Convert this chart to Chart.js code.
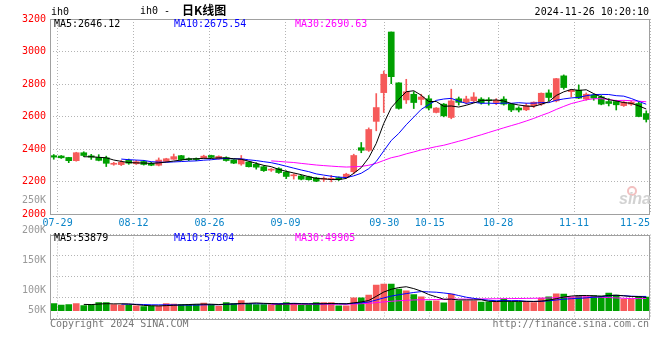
<!DOCTYPE html>
<html><head><meta charset="utf-8">
<script src="https://cdn.jsdelivr.net/npm/chart.js@4.4.1/dist/chart.umd.min.js"></script>
<style>
html,body{margin:0;padding:0;background:#fff;}
#wrap{position:relative;width:660px;height:360px;overflow:hidden;}
canvas{position:absolute;left:0;top:0;}
</style></head><body>
<div id="wrap"><canvas id="main" width="660" height="360"></canvas><canvas id="vol" width="660" height="360"></canvas></div>
<script>
// ---------- data ----------
const dates = ['07-26','07-29','07-30','07-31','08-01','08-02','08-05','08-06','08-07','08-08','08-09',
'08-12','08-13','08-14','08-15','08-16','08-19','08-20','08-21','08-22','08-23',
'08-26','08-27','08-28','08-29','08-30','09-02','09-03','09-04','09-05','09-06',
'09-09','09-10','09-11','09-12','09-13','09-18','09-19','09-20','09-23','09-24','09-25','09-26','09-27',
'09-30','10-08','10-09','10-10','10-11','10-14','10-15','10-16','10-17','10-18',
'10-21','10-22','10-23','10-24','10-25','10-28','10-29','10-30','10-31','11-01',
'11-04','11-05','11-06','11-07','11-08','11-11','11-12','11-13','11-14','11-15',
'11-18','11-19','11-20','11-21','11-22','11-25'];
const opens = [2359,2357,2348,2328,2377,2358,2348,2346,2306,2304,2330,2309,2323,2311,2300,2324,2337,2359,2340,2338,
2345,2360,2340,2347,2333,2308,2320,2306,2291,2270,2279,2258,2235,2234,2229,2222,2214,2213,2224,2226,
2260,2408,2392,2570,2747,3120,2807,2702,2737,2705,2709,2625,2676,2594,2709,2687,2697,2707,2700,2686,
2707,2676,2652,2641,2666,2676,2745,2696,2850,2753,2762,2707,2731,2721,2692,2692,2667,2676,2680,2618];
const highs = [2366,2360,2349,2380,2383,2367,2365,2356,2318,2330,2338,2330,2330,2318,2345,2343,2369,2361,2345,2345,
2362,2362,2358,2352,2335,2360,2322,2316,2297,2280,2285,2266,2248,2240,2233,2226,2228,2238,2228,2251,
2368,2440,2530,2741,2880,3120,2808,2829,2753,2737,2729,2655,2680,2768,2720,2725,2747,2716,2716,2710,
2722,2680,2660,2680,2690,2745,2764,2835,2856,2766,2794,2745,2737,2729,2710,2700,2696,2696,2688,2635];
const lows = [2337,2342,2316,2325,2353,2336,2327,2292,2300,2298,2306,2305,2301,2297,2296,2321,2336,2330,2328,2328,
2343,2345,2337,2325,2310,2300,2289,2276,2262,2262,2250,2218,2215,2210,2208,2199,2200,2198,2206,2221,
2247,2377,2385,2512,2625,2802,2645,2680,2649,2672,2640,2622,2598,2586,2670,2678,2686,2676,2670,2673,
2670,2630,2628,2636,2655,2668,2696,2690,2768,2721,2710,2700,2700,2672,2665,2640,2662,2668,2598,2566];
const closes = [2350,2346,2328,2377,2360,2350,2330,2312,2309,2318,2313,2322,2305,2300,2332,2340,2353,2335,2334,2335,
2356,2349,2354,2329,2313,2338,2291,2288,2267,2272,2255,2231,2238,2214,2211,2202,2217,2216,2214,2245,
2360,2392,2520,2655,2860,2845,2650,2752,2686,2720,2652,2652,2604,2696,2687,2708,2720,2685,2697,2700,
2676,2640,2640,2666,2688,2743,2717,2833,2778,2762,2713,2737,2713,2676,2680,2672,2688,2688,2600,2582];
const ma5 = [null,null,null,null,2352.2,2352.2,2349,2345.8,2332.2,2323.8,2316.4,2314.8,2313.4,2311.6,2314.4,2319.8,2326,2332,2338.8,2339.4,
2342.6,2341.8,2345.6,2344.6,2340.2,2336.6,2325,2311.8,2299.4,2291.2,2274.6,2262.6,2252.6,2242,2229.8,2219.2,2216.4,2212,2212,2218.8,
2250.4,2285.4,2346.2,2434.4,2557.4,2654.4,2706,2752.4,2758.6,2730.6,2692,2692.4,2662.8,2664.8,2658.2,2669.4,2683,2699.2,2699.4,2702,
2695.6,2679.6,2670.6,2664.4,2662,2675.4,2690.8,2729.4,2751.8,2766.6,2760.6,2764.6,2740.6,2720.2,2703.8,2695.6,2685.8,2680.8,2665.6,2646.1];
const ma10 = [null,null,null,null,null,null,null,null,null,2338,2334.3,2331.9,2329.6,2321.9,2319.1,2318.1,2320.4,2322.7,2325.2,2326.9,
2331.2,2333.9,2338.8,2341.7,2339.8,2339.6,2333.4,2328.7,2322,2315.7,2305.6,2293.8,2282.2,2270.7,2260.5,2246.9,2239.5,2232.3,2227,2224.3,
2234.8,2250.9,2279.1,2323.2,2388.1,2452.4,2495.7,2549.3,2596.5,2644,2673.2,2699.2,2707.6,2711.7,2694.4,2680.7,2687.7,2681,2682.1,2680.1,
2682.5,2681.3,2684.9,2681.9,2682,2685.5,2685.2,2700,2708.1,2714.3,2718,2727.7,2735,2736,2735.2,2728.1,2725.2,2710.7,2692.9,2675.5];
const ma30 = [null,null,null,null,null,null,null,null,null,null,null,null,null,null,null,null,null,null,null,null,
null,null,null,null,null,null,null,null,null,2326.9,2323.7,2319.9,2316.9,2311.4,2306.5,2301.5,2297.8,2294.6,2291.4,2289,
2290.5,2292.9,2300,2311.9,2329.5,2346.3,2356.2,2370.1,2381.8,2394.7,2404.5,2414.6,2423,2435.2,2447.7,2460,2474.3,2487.5,2501.9,2516.1,
2530.2,2543.8,2557.2,2572.3,2588.2,2606.2,2622.9,2643.4,2662.2,2679.5,2691.2,2702.7,2709.2,2709.9,2703.9,2698.1,2699.4,2697.2,2694.4,2690.6];
const volumes = [29500,22800,25400,29500,21400,25400,33500,33500,25400,22800,22800,20100,17400,18700,18700,29500,26800,25400,25400,25400,
30800,25400,18700,33500,29500,41500,28100,25400,25400,25400,29500,33500,29500,22800,22800,33500,33500,33500,20100,20100,
52200,52200,63000,103000,107000,107000,87000,80000,65600,56000,39000,40000,32000,67000,40000,40000,40000,35000,36000,35000,
47000,36000,36000,36000,33500,51000,56000,68000,67000,55000,60000,57600,61600,59000,71000,63000,47000,47000,57600,55000];
const vma5 = [null,null,null,null,25720,24900,27040,28660,27840,28120,27600,24920,21700,20360,19540,20880,22220,23820,25160,26500,
26760,26480,25140,26760,27580,29720,30260,31600,29980,29160,26760,27840,28660,28140,27620,28420,28420,29220,28680,28140,
31880,35620,41520,58100,75480,86440,93400,96800,89320,79120,65520,56120,46520,46800,43600,43800,43800,44400,38200,37200,
38600,37800,38000,38000,37700,38500,42500,48900,55100,59400,61200,61520,60240,58640,61840,62440,60320,57400,57120,53879];
const vma10 = [null,null,null,null,null,null,null,null,null,26920,26250,25980,25180,24100,23830,24240,23570,22760,22760,23020,
23820,24350,24480,25960,27040,28240,28370,28370,28370,28370,28240,29050,30130,29060,28390,27590,28130,28940,28410,27880,
30150,32020,35370,43390,51810,59160,64510,69160,73710,77300,75980,74760,71660,68060,61360,54660,49960,45460,42500,40400,
41200,40800,41200,38100,37450,38550,40150,43450,46550,48550,49850,52010,54570,56870,60620,61820,60920,58820,57880,57804];
const vma30 = [null,null,null,null,null,null,null,null,null,null,null,null,null,null,null,null,null,null,null,null,
null,null,null,null,null,null,null,null,null,26100,26100,26460,26600,26370,26420,26690,26690,26690,26510,26420,
27400,28470,29990,32800,35750,38330,40340,42160,43500,44520,44790,45280,45720,46840,47190,47140,47530,47850,48210,48530,
49110,49190,49410,49850,50210,50790,51540,52690,54250,55420,55680,55860,55810,54340,53140,51680,50340,49240,48980,49905];
const tickDates = ['07-29','08-12','08-26','09-09','09-30','10-15','10-28','11-11','11-25'];
const priceTicks = [2000,2200,2400,2600,2800,3000,3200];
const volTickLabels = ['250K','200K','150K','100K','50K'];
const priceLegend = ['MA5:2646.12','MA10:2675.54','MA30:2690.63'];
const volLegend = ['MA5:53879','MA10:57804','MA30:49905'];
const symbol = 'ih0';
const titleText = ['ih0 -','日K线图'];
const stamp = '2024-11-26 10:20:10';

// ---------- styles ----------
const RED = '#f65a5a', GREEN = '#00a000';
const GRID = '#b4b4b4', FRAME = '#a0a0a0';
const MONO = 'DejaVu Sans Mono';
const candleColors = closes.map((c, i) => c >= opens[i] ? RED : GREEN);
const gridTicks = [0].concat(tickDates.map(d => dates.indexOf(d)));

const framePlugin = {
  id: 'frame',
  afterDraw(chart) {
    const a = chart.chartArea, ctx = chart.ctx;
    ctx.save();
    ctx.strokeStyle = FRAME; ctx.lineWidth = 1;
    ctx.strokeRect(Math.round(a.left) + 0.5, Math.round(a.top) + 0.5,
                   Math.round(a.right - a.left) - 1, Math.round(a.bottom - a.top));
    ctx.restore();
  }
};
function txt(ctx, s, x, y, color, font, align) {
  ctx.font = font; ctx.fillStyle = color; ctx.textAlign = align || 'left';
  ctx.textBaseline = 'middle'; ctx.fillText(s, x, y);
}
const mainText = {
  id: 'mainText',
  afterDraw(chart) {
    const ctx = chart.ctx; ctx.save();
    const f = '10px "' + MONO + '"';
    txt(ctx, symbol, 51, 12, '#000', f);
    txt(ctx, titleText[0], 140, 11, '#000', f);
    txt(ctx, titleText[1], 182, 10, '#000', 'bold 12px "Noto Sans CJK SC"');
    txt(ctx, stamp, 649, 12, '#000', f, 'right');
    txt(ctx, priceLegend[0], 54, 24, '#000', f);
    txt(ctx, priceLegend[1], 174, 24, '#0000ff', f);
    txt(ctx, priceLegend[2], 295, 24, '#ff00ff', f);
    // sina watermark
    ctx.strokeStyle = '#f2c0c0'; ctx.lineWidth = 2;
    ctx.beginPath(); ctx.arc(632, 191, 4, 0, Math.PI * 2); ctx.stroke();
    txt(ctx, 'sina', 619, 200, '#d2d2d2', 'italic bold 16px "Liberation Sans"');
    ctx.restore();
  }
};
const volText = {
  id: 'volText',
  afterDraw(chart) {
    const ctx = chart.ctx; ctx.save();
    const f = '10px "' + MONO + '"';
    txt(ctx, volLegend[0], 54, 238, '#000', f);
    txt(ctx, volLegend[1], 174, 238, '#0000ff', f);
    txt(ctx, volLegend[2], 295, 238, '#ff00ff', f);
    const ys = [200.5, 230.5, 260, 290, 310.5];
    volTickLabels.forEach((s, i) => txt(ctx, s, 46, ys[i], '#999999', f, 'right'));
    txt(ctx, 'Copyright 2024 SINA.COM', 50, 324, '#777777', f);
    txt(ctx, 'http://finance.sina.com.cn', 649, 324, '#777777', f, 'right');
    ctx.restore();
  }
};

const lineDs = (data, color) => ({type: 'line', data, borderColor: color, borderWidth: 1,
  pointRadius: 0, tension: 0, fill: false, order: 0, xAxisID: 'x', yAxisID: 'y', spanGaps: false});
const gridX = (showLabels) => ({
  type: 'linear', position: 'bottom', min: 0, max: 79, offset: false,
  afterBuildTicks: s => { s.ticks = gridTicks.map(v => ({value: v})); },
  afterFit: s => { s.height = showLabels ? 16 : 0; },
  grid: {color: GRID, lineWidth: 1, drawTicks: false, offset: false},
  border: {display: false, dash: [1, 2]},
  ticks: {display: showLabels, autoSkip: false, maxRotation: 0, minRotation: 0, align: 'inner', padding: 3,
    color: '#0a84c8', font: {family: MONO, size: 10},
    callback: v => v === 0 ? '' : dates[v]}
});

new Chart(document.getElementById('main'), {
  type: 'bar',
  data: {
    labels: dates,
    datasets: [
      lineDs(ma5, '#000000'), lineDs(ma10, '#0000ff'), lineDs(ma30, '#ff00ff'),
      {data: opens.map((o, i) => [o, closes[i]]), backgroundColor: candleColors, barThickness: 6,
       minBarLength: 1, grouped: false, order: 1, borderWidth: 0, xAxisID: 'x', yAxisID: 'y'},
      {data: lows.map((l, i) => [l, highs[i]]), backgroundColor: candleColors, barThickness: 1,
       grouped: false, order: 2, borderWidth: 0, xAxisID: 'x', yAxisID: 'y'}
    ]
  },
  options: {
    responsive: false, animation: false, events: [],
    layout: {padding: {left: 0, right: 10, top: 19, bottom: 360 - 214 - 16}},
    plugins: {legend: {display: false}, tooltip: {enabled: false}},
    scales: {
      x: {type: 'category', display: false, offset: true},
      xg: gridX(true),
      y: {type: 'linear', min: 2000, max: 3200,
        afterBuildTicks: s => { s.ticks = priceTicks.map(v => ({value: v})); },
        afterFit: s => { s.width = 50; },
        grid: {color: GRID, lineWidth: 1, drawTicks: false},
        border: {display: false, dash: [1, 2]},
        ticks: {color: '#ff0000', padding: 4, font: {family: MONO, size: 10}, callback: v => String(v)}}
    }
  },
  plugins: [framePlugin, mainText]
});

new Chart(document.getElementById('vol'), {
  type: 'bar',
  data: {
    labels: dates,
    datasets: [
      lineDs(vma5, '#000000'), lineDs(vma10, '#0000ff'), lineDs(vma30, '#ff00ff'),
      {data: volumes, backgroundColor: candleColors, barThickness: 6, grouped: false, order: 1,
       borderWidth: 0, xAxisID: 'x', yAxisID: 'y'}
    ]
  },
  options: {
    responsive: false, animation: false, events: [],
    layout: {padding: {left: 50, right: 10, top: 234.5, bottom: 42}},
    plugins: {legend: {display: false}, tooltip: {enabled: false}},
    scales: {
      x: {type: 'category', display: false, offset: true},
      xg: gridX(false),
      y: {type: 'linear', min: -29000, max: 307000,
        afterBuildTicks: s => { const st = (s.max - s.min) / 4; s.ticks = [0, 1, 2, 3, 4].map(k => ({value: s.min + k * st})); },
        afterFit: s => { s.width = 0; },
        grid: {color: GRID, lineWidth: 1, drawTicks: false},
        border: {display: false, dash: [1, 2]},
        ticks: {display: false}}
    }
  },
  plugins: [framePlugin, volText]
});
</script>
</body></html>
